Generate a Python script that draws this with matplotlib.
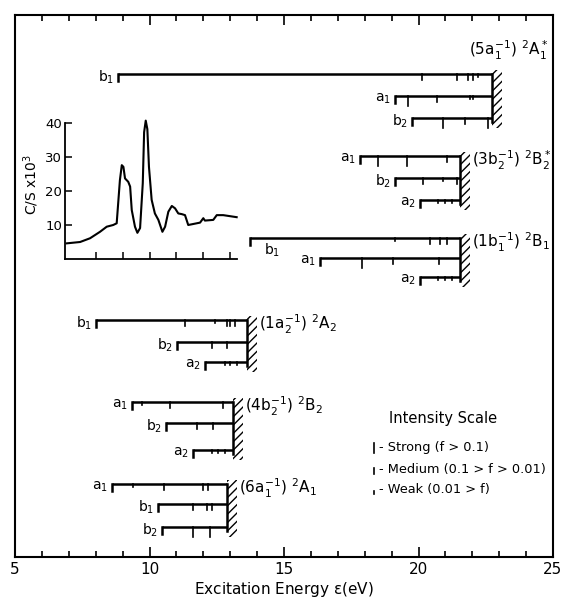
import matplotlib
matplotlib.use('Agg')
import matplotlib.pyplot as plt
from matplotlib.patches import Rectangle

plt.rcParams['font.family'] = ['DejaVu Sans']
plt.rcParams['mathtext.default'] = 'regular'
plt.rcParams['hatch.linewidth'] = 1.0

# ionization limits (eV) and term labels, top to bottom
limits = [22.73, 21.54, 21.54, 13.62, 13.10, 12.88]
terms = [r'$(5a_1^{-1})\ {}^2A_1^*$', r'$(3b_2^{-1})\ {}^2B_2^*$', r'$(1b_1^{-1})\ {}^2B_1$',
         r'$(1a_2^{-1})\ {}^2A_2$', r'$(4b_2^{-1})\ {}^2B_2$', r'$(6a_1^{-1})\ {}^2A_1$']

# Rydberg branches of each group: name, onset energy, line energies, strength (s/m/w)
g1_names = ['b_1', 'a_1', 'b_2']
g1_start = [8.83, 19.13, 19.76]
g1_lines = [[20.13, 21.43, 21.84, 22.03, 22.21], [19.61, 20.69, 21.91, 22.03], [20.91, 21.73, 22.58]]
g1_kind = [['m', 'm', 'm', 'm', 'w'], ['s', 'm', 'w', 'w'], ['s', 'm', 's']]

g2_names = ['a_1', 'b_2', 'a_2']
g2_start = [17.83, 19.13, 20.06]
g2_lines = [[18.49, 19.57, 21.06], [20.17, 20.91, 21.43], [20.72, 20.99, 21.25]]
g2_kind = [['s', 's', 'm'], ['m', 'w', 'm'], ['w', 'w', 'w']]

g3_names = ['b_1', 'a_1', 'a_2']
g3_start = [13.74, 16.34, 20.06]
g3_lines = [[19.13, 20.43, 20.80, 21.06], [17.90, 19.05, 20.76], [20.72, 20.99, 21.25]]
g3_kind = [['w', 'm', 'm', 'm'], ['s', 'm', 'm'], ['w', 'w', 'w']]

g4_names = ['b_1', 'b_2', 'a_2']
g4_start = [8.01, 11.02, 12.06]
g4_lines = [[11.32, 12.43, 12.88, 13.00, 13.18], [12.32, 12.88], [12.81, 12.99, 13.25]]
g4_kind = [['m', 'w', 'm', 'm', 'm'], ['m', 'm'], ['w', 'w', 'w']]

g5_names = ['a_1', 'b_2', 'a_2']
g5_start = [9.35, 10.61, 11.62]
g5_lines = [[9.72, 10.76, 12.73], [11.77, 12.36], [12.32, 12.55, 12.81]]
g5_kind = [['w', 'm', 'm'], ['m', 'm'], ['w', 'w', 'w']]

g6_names = ['a_1', 'b_1', 'b_2']
g6_start = [8.61, 10.32, 10.46]
g6_lines = [[9.39, 10.54, 11.99, 12.17], [11.62, 12.14, 12.32], [11.62, 12.25]]
g6_kind = [['w', 'm', 'm', 'm'], ['m', 'm', 'm'], ['s', 's']]

# photoabsorption spectrum in the inset (eV, counts/s x 10^3)
spec_e = [6.92, 7.42, 7.79, 8.16, 8.41, 8.65, 8.78, 8.90, 8.97, 9.03, 9.09, 9.21, 9.28, 9.34,
          9.46, 9.55, 9.65, 9.75, 9.80, 9.86, 9.92, 9.98, 10.08, 10.20, 10.33, 10.48, 10.58,
          10.70, 10.83, 10.95, 11.07, 11.20, 11.32, 11.44, 11.63, 11.88, 12.00, 12.06, 12.37,
          12.50, 12.74, 12.99, 13.24]
spec_c = [4.6, 5.0, 6.1, 8.0, 9.5, 10.0, 10.5, 23.2, 27.6, 27.1, 23.7, 22.7, 21.3, 14.4,
          9.5, 7.7, 9.1, 22.3, 37.3, 40.7, 38.2, 27.1, 17.4, 13.4, 11.5, 8.0, 9.5,
          13.9, 15.6, 14.9, 13.4, 13.2, 12.9, 10.0, 10.3, 10.7, 12.0, 11.3, 11.5,
          12.9, 12.9, 12.6, 12.3]

groups = [(g1_names, g1_start, g1_lines, g1_kind), (g2_names, g2_start, g2_lines, g2_kind),
          (g3_names, g3_start, g3_lines, g3_kind), (g4_names, g4_start, g4_lines, g4_kind),
          (g5_names, g5_start, g5_lines, g5_kind), (g6_names, g6_start, g6_lines, g6_kind)]

# layout: rows (pixel y) of each branch
rows = [[74, 96, 118], [156, 178, 200], [238, 258, 277],
        [320, 342, 362], [402, 423, 450], [484, 504, 527]]
tick_len = {'s': 10, 'm': 6, 'w': 3}

W, H = 563, 600
PX = 26.9  # pixels per eV


def box(x0, y0, x1, y1):
    return [x0 / W, 1 - y1 / H, (x1 - x0) / W, (y1 - y0) / H]


def px2e(x):
    return 5 + (x - 15) / PX


fig = plt.figure(figsize=(W / 100, H / 100), dpi=100)
ax = fig.add_axes(box(15, 15, 553, 557))
ax.set_xlim(5, 25)
ax.set_ylim(557, 15)
ax.set_xticks(range(5, 26, 5))
ax.set_xticks(range(5, 26), minor=True)
ax.tick_params(axis='x', which='both', direction='in', top=True, bottom=True, width=1.2, labelsize=11)
ax.tick_params(axis='x', which='major', length=7)
ax.tick_params(axis='x', which='minor', length=4.5)
ax.set_yticks([])
for s in ax.spines.values():
    s.set_linewidth(1.5)
ax.set_xlabel(r'Excitation Energy $\epsilon$(eV)', fontsize=11, labelpad=2)

lw = 1.8
for gi, (names, starts, lines, kinds) in enumerate(groups):
    lim = limits[gi]
    r = rows[gi]
    for bi in range(3):
        y = r[bi]
        ax.plot([starts[bi], lim], [y, y], color='k', lw=lw, solid_capstyle='butt')
        ax.plot([starts[bi], starts[bi]], [y, y + 7], color='k', lw=lw)
        for e, k in zip(lines[bi], kinds[bi]):
            ax.plot([e, e], [y, y + tick_len[k]], color='k', lw=1.2)
        if gi == 2 and bi == 0:
            ax.text(starts[bi] + 0.5, y + 12, '$' + names[bi] + '$', fontsize=10,
                    ha='left', va='center')
        else:
            ax.text(starts[bi] - 0.15, y + 3, '$' + names[bi] + '$', fontsize=10,
                    ha='right', va='center')
    ax.plot([lim, lim], [r[0], r[2] + 4], color='k', lw=lw)
    ax.add_patch(Rectangle((lim, r[0] - 4), 10 / PX, r[2] - r[0] + 14, fill=False,
                           hatch='////', lw=0, edgecolor='k'))
    if gi == 0:
        ax.text(px2e(548), 50, terms[gi], fontsize=11, ha='right', va='center')
    else:
        ax.text(lim + 12 / PX, r[0] + 4, terms[gi], fontsize=11, ha='left', va='center')

# intensity scale legend
ax.text(px2e(443), 418, 'Intensity Scale', fontsize=10.5, ha='center', va='center')
leg_text = ['- Strong (f > 0.1)', '- Medium (0.1 > f > 0.01)', '- Weak (0.01 > f)']
leg_y = [448, 469, 489]
for t, y, k in zip(leg_text, leg_y, ['s', 'm', 'w']):
    ax.plot([px2e(374), px2e(374)], [y + 5 - tick_len[k], y + 5], color='k', lw=1.2)
    ax.text(px2e(379), y, t, fontsize=9.3, ha='left', va='center')

# inset spectrum
ins = fig.add_axes(box(65, 123, 237, 259))
ins.plot(spec_e, spec_c, color='k', lw=1.5, clip_on=False)
ins.set_xlim(px2e(65), px2e(237))
ins.set_ylim(0, 40)
ins.spines['top'].set_visible(False)
ins.spines['right'].set_visible(False)
for s in ['left', 'bottom']:
    ins.spines[s].set_linewidth(1.3)
ins.set_xticks(range(8, 14))
ins.set_xticklabels([])
ins.set_yticks([10, 20, 30, 40])
ins.tick_params(direction='in', length=5, width=1.1, labelsize=9.5, pad=2)
ins.patch.set_visible(False)
fig.text(31 / W, 1 - 185 / H, r'C/S x$10^3$', rotation=90, fontsize=10,
         ha='center', va='center')

fig.savefig('out.png', dpi=100)
